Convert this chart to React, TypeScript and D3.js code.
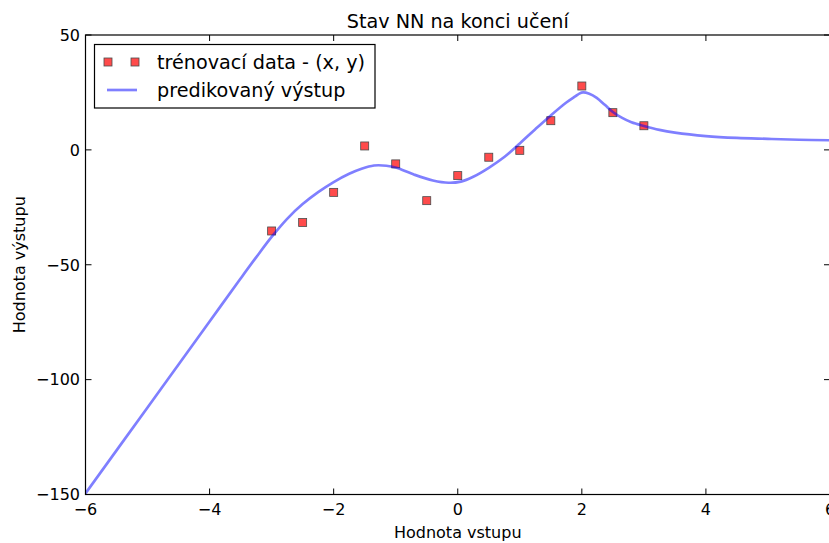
import React from "react";
import * as d3 from "d3";

// Training samples (x, y)
const trainX = [-3, -2.5, -2, -1.5, -1, -0.5, 0, 0.5, 1, 1.5, 2, 2.5, 3];
const trainY = [-35.3, -31.6, -18.5, 1.7, -6.1, -22.1, -11.2, -3.2, -0.2, 12.7, 27.8, 16.2, 10.5];

// Network prediction sampled along the input range
const predX = [
  -6, -5, -4.5, -4, -3.5, -3.25, -3, -2.75, -2.5, -2.25, -2, -1.75, -1.55, -1.35, -1.15, -1, -0.7,
  -0.4, -0.15, 0.05, 0.25, 0.5, 0.75, 1.0, 1.25, 1.5, 1.75, 1.9, 1.96, 2.02, 2.12, 2.24, 2.37, 2.5,
  2.65, 2.8, 3.0, 3.25, 3.5, 4, 4.5, 5, 5.5, 6,
];
const predY = [
  -149.5, -112.1, -93.4, -74.7, -56.0, -46.8, -37.9, -30.0, -23.6, -18.4, -14.0, -10.4, -8.2, -6.8,
  -6.9, -7.7, -10.8, -13.3, -14.3, -13.8, -11.7, -7.8, -3.1, 2.8, 9.0, 15.0, 20.6, 23.4, 24.5, 25.0,
  24.4, 22.6, 19.6, 16.5, 13.9, 12.0, 10.4, 8.7, 7.5, 6.0, 5.2, 4.8, 4.4, 4.2,
];

const xTicks = [-6, -4, -2, 0, 2, 4, 6];
const yTicks = [-150, -100, -50, 0, 50];

const titleText = "Stav NN na konci učení";
const xLabel = "Hodnota vstupu";
const yLabel = "Hodnota výstupu";
const legendLabels = ["trénovací data - (x, y)", "predikovaný výstup"];

const W = 829;
const H = 543;
const plot = { left: 85.5, right: 830, top: 35, bottom: 494.5 };
const FONT = "'DejaVu Sans', sans-serif";

const fmt = (v: number) => (v < 0 ? "\u2212" + Math.abs(v) : String(v));

export default function App() {
  const x = d3.scaleLinear().domain([-6, 6]).range([plot.left, plot.right]);
  const y = d3.scaleLinear().domain([-150, 50]).range([plot.bottom, plot.top]);

  const line = d3
    .line<number>()
    .x((_, i) => x(predX[i]))
    .y((d) => y(d))
    .curve(d3.curveCatmullRom.alpha(0.5));

  const ms = 8;
  const tick = 6;

  return (
    <svg
      width={W}
      height={H}
      style={{ position: "absolute", left: 0, top: 0, background: "#fff" }}
      fontFamily={FONT}
    >
      <defs>
        <clipPath id="plotArea">
          <rect x={plot.left} y={plot.top} width={plot.right - plot.left} height={plot.bottom - plot.top} />
        </clipPath>
      </defs>

      <g clipPath="url(#plotArea)">
        {/* training samples */}
        {trainX.map((tx, i) => (
          <rect
            key={i}
            x={x(tx) - ms / 2}
            y={y(trainY[i]) - ms / 2}
            width={ms}
            height={ms}
            fill="red"
            stroke="black"
            strokeWidth={0.8}
            opacity={0.7}
          />
        ))}
        {/* predicted output */}
        <path d={line(predY) || ""} fill="none" stroke="blue" strokeOpacity={0.5} strokeWidth={2.67} />
      </g>

      {/* frame */}
      <rect
        x={plot.left}
        y={plot.top}
        width={plot.right - plot.left}
        height={plot.bottom - plot.top}
        fill="none"
        stroke="black"
        strokeWidth={1.2}
      />

      {/* x ticks */}
      {xTicks.map((t) => (
        <g key={"x" + t}>
          <line x1={x(t)} x2={x(t)} y1={plot.bottom} y2={plot.bottom - tick} stroke="black" strokeWidth={1} />
          <line x1={x(t)} x2={x(t)} y1={plot.top} y2={plot.top + tick} stroke="black" strokeWidth={1} />
          <text x={x(t)} y={515} fontSize={16} textAnchor="middle" fill="black">
            {fmt(t)}
          </text>
        </g>
      ))}

      {/* y ticks */}
      {yTicks.map((t) => (
        <g key={"y" + t}>
          <line x1={plot.left} x2={plot.left + tick} y1={y(t)} y2={y(t)} stroke="black" strokeWidth={1} />
          <line x1={plot.right} x2={plot.right - tick} y1={y(t)} y2={y(t)} stroke="black" strokeWidth={1} />
          <text x={80} y={y(t)} dy="0.36em" fontSize={16} textAnchor="end" fill="black">
            {fmt(t)}
          </text>
        </g>
      ))}

      {/* title and axis labels */}
      <text x={(plot.left + plot.right) / 2} y={28} fontSize={19.2} textAnchor="middle" fill="black">
        {titleText}
      </text>
      <text x={(plot.left + plot.right) / 2} y={538} fontSize={16} textAnchor="middle" fill="black">
        {xLabel}
      </text>
      <text
        transform={`translate(25, ${(plot.top + plot.bottom) / 2}) rotate(-90)`}
        fontSize={16}
        textAnchor="middle"
        fill="black"
      >
        {yLabel}
      </text>

      {/* legend */}
      <g>
        <rect x={94.5} y={44.5} width={280.5} height={63.5} fill="white" stroke="black" strokeWidth={1.2} />
        {[108, 135].map((lx) => (
          <rect
            key={lx}
            x={lx - ms / 2}
            y={62 - ms / 2}
            width={ms}
            height={ms}
            fill="red"
            stroke="black"
            strokeWidth={0.8}
            opacity={0.7}
          />
        ))}
        <text x={157} y={68.5} fontSize={19.2} fill="black">
          {legendLabels[0]}
        </text>
        <line x1={107} x2={137} y1={90} y2={90} stroke="blue" strokeOpacity={0.5} strokeWidth={2.67} />
        <text x={157} y={96.8} fontSize={19.2} fill="black">
          {legendLabels[1]}
        </text>
      </g>
    </svg>
  );
}
